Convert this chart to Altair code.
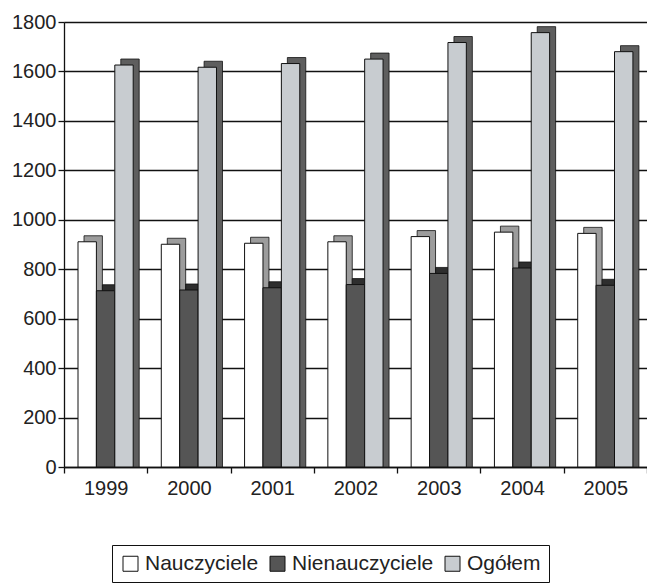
import altair as alt
import pandas as pd

years = ["1999", "2000", "2001", "2002", "2003", "2004", "2005"]
series = ["Nauczyciele", "Nienauczyciele", "Ogółem"]
nauczyciele = [911, 901, 905, 911, 932, 950, 945]
nienauczyciele = [713, 716, 725, 738, 783, 805, 735]
ogolem = [1626, 1617, 1632, 1650, 1717, 1757, 1680]
y_ticks = [0, 200, 400, 600, 800, 1000, 1200, 1400, 1600, 1800]

rows = []
for i, yr in enumerate(years):
    for s, vals in zip(series, [nauczyciele, nienauczyciele, ogolem]):
        rows.append({"Rok": yr, "Seria": s, "Wartość": vals[i], "Zero": 0})
df = pd.DataFrame(rows)

front_colors = ["#ffffff", "#555555", "#c8ccd0"]
side_colors = ["#9c9c9c", "#2e2e2e", "#5e5e5e"]
FONT = "Liberation Sans"

W, H = 583, 445
DEPTH = 6

x = alt.X(
    "Rok:N", sort=years,
    scale=alt.Scale(paddingInner=0, paddingOuter=0),
    axis=alt.Axis(title=None, labelAngle=0, tickBand="extent", grid=False,
                  labelFontSize=20, labelFont=FONT, labelColor="#222",
                  tickSize=6, labelPadding=5, domainColor="#111", tickColor="#111",
                  domainWidth=1.3, tickWidth=1.3),
)
y = alt.Y(
    "Wartość:Q",
    scale=alt.Scale(domain=[0, 1800], nice=False),
    axis=alt.Axis(title=None, values=y_ticks, format="d", labelFontSize=20, labelFont=FONT,
                  labelColor="#222", tickSize=6, labelPadding=2,
                  grid=True, gridColor="#111", gridWidth=1.3,
                  domainColor="#111", tickColor="#111", domainWidth=1.3, tickWidth=1.3),
)

front_range = [14, 14 + 3 * 18.4]
side_range = [14 + DEPTH, 14 + DEPTH + 3 * 18.4]

base = alt.Chart(df)
side = base.mark_bar(yOffset=-DEPTH, y2Offset=0,
                     stroke="#111", strokeWidth=0.8).encode(
    x=x,
    xOffset=alt.XOffset("Seria:N", sort=series, scale=alt.Scale(range=side_range, paddingInner=0, paddingOuter=0)),
    y=y,
    y2=alt.Y2("Zero:Q"),
    color=alt.Color("Seria:N", scale=alt.Scale(domain=series, range=side_colors), legend=None),
)
front = base.mark_bar(stroke="#111", strokeWidth=1).encode(
    x=x,
    xOffset=alt.XOffset("Seria:N", sort=series, scale=alt.Scale(range=front_range, paddingInner=0, paddingOuter=0)),
    y=y,
    color=alt.Color(
        "Seria:N", scale=alt.Scale(domain=series, range=front_colors),
        legend=alt.Legend(title=None, orient="none", legendX=48, legendY=523,
                          direction="horizontal", strokeColor="#111", padding=8,
                          fillColor="white", symbolType="square", symbolSize=225,
                          symbolStrokeColor="#111", symbolStrokeWidth=1,
                          labelFontSize=21, labelFont=FONT, labelColor="#222",
                          columnPadding=8, labelOffset=4),
    ),
)

chart = alt.layer(side, front).resolve_scale(color="independent", xOffset="independent").properties(
    width=W, height=H,
    autosize=alt.AutoSizeParams(type="none"),
    padding={"left": 56, "top": 14, "right": 0, "bottom": 120},
).configure_view(stroke=None).configure(background="white")

chart.save("out.html", embed_options={"renderer": "svg", "actions": False})
